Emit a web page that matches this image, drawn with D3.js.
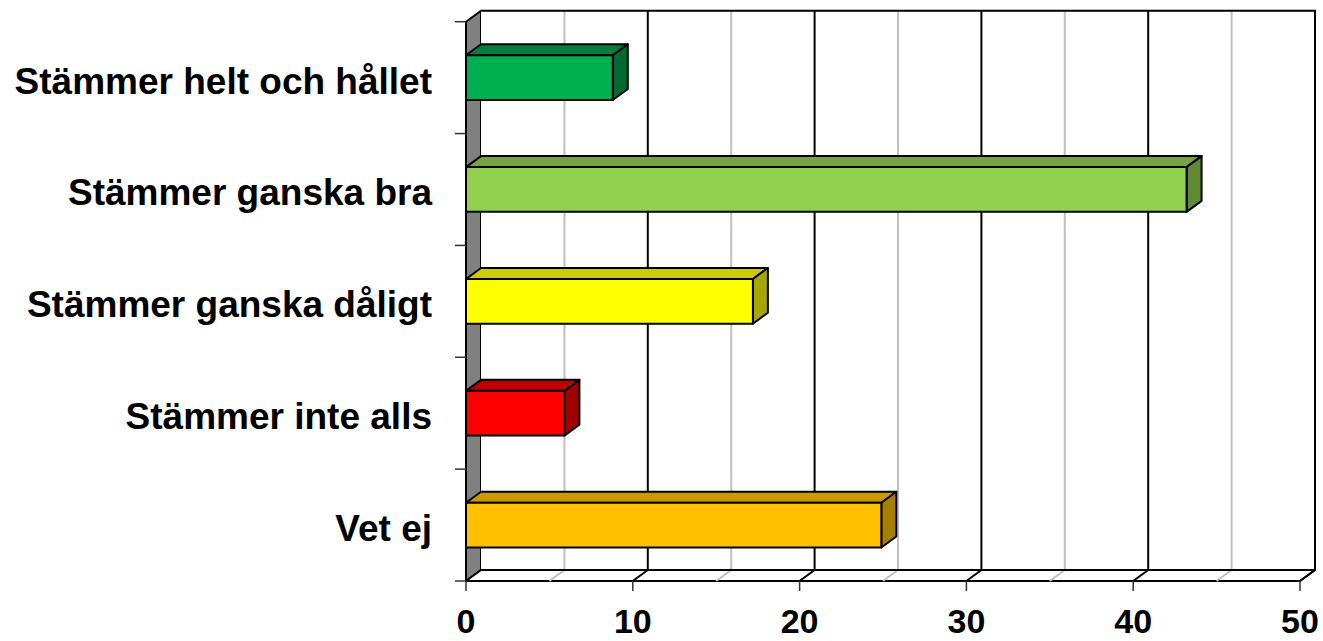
<!DOCTYPE html>
<html>
<head>
<meta charset="utf-8">
<script src="https://cdn.jsdelivr.net/npm/d3@7"></script>
<style>
  html, body { margin: 0; padding: 0; background: #fff; }
  svg { display: block; }
</style>
</head>
<body>
<svg id="chart" width="1323" height="641"></svg>
<script>
const categories = ["Stämmer helt och hållet", "Stämmer ganska bra", "Stämmer ganska dåligt", "Stämmer inte alls", "Vet ej"];
const values = [8.8, 43.2, 17.2, 5.9, 24.9];
const frontColors = ["#00B050", "#92D050", "#FFFF00", "#FF0000", "#FFC000"];
const topColors = ["#007F3A", "#76A33F", "#CCCC00", "#C00000", "#CC9900"];
const sideColors = ["#006A30", "#628A34", "#A6A600", "#A00000", "#A67F00"];
const majorTicks = [0, 10, 20, 30, 40, 50];
const minorTicks = [5, 15, 25, 35, 45];

const svg = d3.select("#chart");
const dx = 15, dy = -11;
const x = d3.scaleLinear().domain([0, 50]).range([466, 1300]);
const yTop = 21.7, yBot = 581;
const y = d3.scaleBand().domain(categories).range([yTop, yBot]).paddingInner(0.6).paddingOuter(0.3);
const yb = d3.scaleBand().domain(categories).range([yTop, yBot]).padding(0);

const x0 = x(0), x50 = x(50);

// left side wall (gray)
svg.append("path")
  .attr("d", `M${x0},${yTop} L${x0+dx},${yTop+dy} L${x0+dx},${yBot+dy} L${x0},${yBot} Z`)
  .attr("fill", "#808080").attr("stroke", "#000").attr("stroke-width", 2).attr("stroke-linejoin", "round");

// back wall
svg.append("rect")
  .attr("x", x0 + dx).attr("y", yTop + dy)
  .attr("width", x50 - x0).attr("height", yBot - yTop)
  .attr("fill", "#fff").attr("stroke", "none");

// floor
svg.append("path")
  .attr("d", `M${x0},${yBot} L${x0+dx},${yBot+dy} L${x50+dx},${yBot+dy} L${x50},${yBot} Z`)
  .attr("fill", "#fff").attr("stroke", "#000").attr("stroke-width", 2).attr("stroke-linejoin", "round");

// gridlines on back wall and floor
const grid = svg.append("g");
minorTicks.forEach(v => {
  grid.append("line").attr("x1", x(v)+dx).attr("x2", x(v)+dx).attr("y1", yTop+dy).attr("y2", yBot+dy)
    .attr("stroke", "#C0C0C0").attr("stroke-width", 2);
  grid.append("line").attr("x1", x(v)+dx).attr("x2", x(v)).attr("y1", yBot+dy).attr("y2", yBot)
    .attr("stroke", "#C0C0C0").attr("stroke-width", 2);
});
majorTicks.filter(v => v > 0 && v < 50).forEach(v => {
  grid.append("line").attr("x1", x(v)+dx).attr("x2", x(v)+dx).attr("y1", yTop+dy).attr("y2", yBot+dy)
    .attr("stroke", "#000").attr("stroke-width", 2);
  grid.append("line").attr("x1", x(v)+dx).attr("x2", x(v)).attr("y1", yBot+dy).attr("y2", yBot)
    .attr("stroke", "#000").attr("stroke-width", 2);
});
// back wall outline (top and right)
svg.append("path")
  .attr("d", `M${x0+dx},${yTop+dy} L${x50+dx},${yTop+dy} L${x50+dx},${yBot+dy}`)
  .attr("fill", "none").attr("stroke", "#000").attr("stroke-width", 2);
svg.append("line").attr("x1", x0+dx).attr("x2", x50+dx).attr("y1", yBot+dy).attr("y2", yBot+dy)
  .attr("stroke", "#000").attr("stroke-width", 2);
svg.append("line").attr("x1", x50+dx).attr("x2", x50).attr("y1", yBot+dy).attr("y2", yBot)
  .attr("stroke", "#000").attr("stroke-width", 2);

// front left axis line and ticks
svg.append("line").attr("x1", x0).attr("x2", x0).attr("y1", yTop).attr("y2", yBot)
  .attr("stroke", "#000").attr("stroke-width", 2);
const bounds = categories.map(c => yb(c)).concat([yBot]);
bounds.forEach(b => {
  svg.append("line").attr("x1", x0 - 11).attr("x2", x0).attr("y1", b).attr("y2", b)
    .attr("stroke", "#333").attr("stroke-width", 1.5);
});
// bottom ticks
majorTicks.forEach(v => {
  svg.append("line").attr("x1", x(v)).attr("x2", x(v)).attr("y1", yBot).attr("y2", yBot + 10)
    .attr("stroke", "#333").attr("stroke-width", 1.5);
});

// bars
const bars = svg.append("g");
categories.forEach((c, i) => {
  const xa = x(0), xe = x(values[i]);
  const t = y(c), h = y.bandwidth(), b = t + h;
  const g = bars.append("g").attr("stroke", "#000").attr("stroke-width", 2).attr("stroke-linejoin", "round");
  g.append("path").attr("d", `M${xa},${t} L${xa+dx},${t+dy} L${xe+dx},${t+dy} L${xe},${t} Z`).attr("fill", topColors[i]);
  g.append("path").attr("d", `M${xe},${t} L${xe+dx},${t+dy} L${xe+dx},${b+dy} L${xe},${b} Z`).attr("fill", sideColors[i]);
  g.append("rect").attr("x", xa).attr("y", t).attr("width", xe - xa).attr("height", h).attr("fill", frontColors[i]);
});

// category labels
svg.append("g").selectAll("text").data(categories).join("text")
  .attr("x", x0 - 34)
  .attr("y", d => yb(d) + yb.bandwidth() / 2 + 16)
  .attr("text-anchor", "end")
  .attr("font-family", "Liberation Sans, Arial, sans-serif")
  .attr("font-weight", "bold")
  .attr("font-size", 37)
  .attr("fill", "#000")
  .text(d => d);

// x tick labels
svg.append("g").selectAll("text").data(majorTicks).join("text")
  .attr("x", d => x(d))
  .attr("y", 633)
  .attr("text-anchor", "middle")
  .attr("font-family", "Liberation Sans, Arial, sans-serif")
  .attr("font-weight", "bold")
  .attr("font-size", 34)
  .attr("fill", "#000")
  .text(d => d);
</script>
</body>
</html>
